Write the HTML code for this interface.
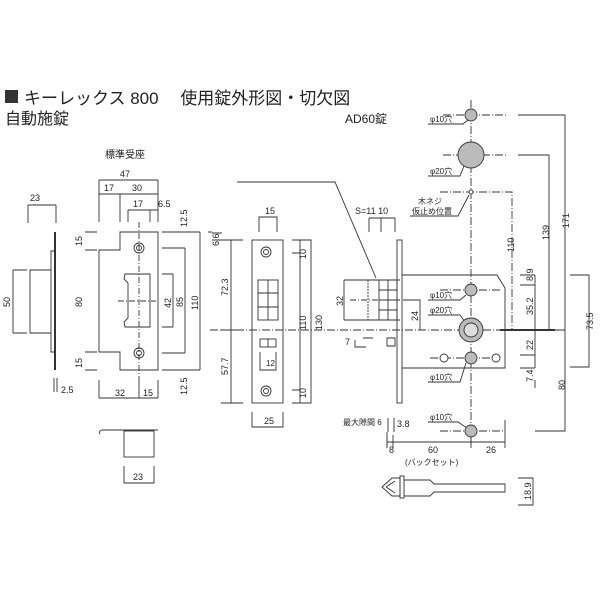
<!DOCTYPE html>
<html><head><meta charset="utf-8"><style>
html,body{margin:0;padding:0;background:#fff}
svg{display:block}
text{font-family:"Liberation Sans","Noto Sans CJK JP",sans-serif;fill:#222}
</style></head><body>
<svg width="600" height="600" viewBox="0 0 600 600" xmlns="http://www.w3.org/2000/svg">
<rect x="5" y="90" width="13" height="13" fill="#333"/>
<text x="24" y="104" font-size="17">キーレックス 800　 使用錠外形図・切欠図</text>
<text x="5" y="124" font-size="16">自動施錠</text>
<text x="345" y="123" font-size="12">AD60錠</text>
<text x="105" y="158" font-size="10">標準受座</text>

<g fill="none" stroke="#333" stroke-width="0.9">
<line x1="55" y1="232" x2="55" y2="370" stroke-width="2"/>
<path d="M55 251 H51 V352 H55"/>
<path d="M51 270 H30 V333 H51"/>
<path d="M13 270 H27 M13 333 H27 M13 270 V333"/>
<path d="M28 205 H56 M28 205 V223 M56 205 V223"/>
<path d="M54 378 V392 M57 378 V392"/>
<path d="M120 232 H158 V370 H120 V352 H99 V250 H120 Z"/>
<path d="M85 232 H97 M85 250 H97 M85 352 H97 M85 370 H97"/>
<line x1="139" y1="222" x2="139" y2="380" stroke-dasharray="6,2,1,2"/>
<circle cx="139" cy="248" r="5"/><circle cx="139" cy="248" r="2.5"/>
<circle cx="139" cy="353" r="5"/><circle cx="139" cy="353" r="2.5"/>
<path d="M125 274 H150 V327 H125 L124 322 L128 318 V283 L124 279 Z"/>
<line x1="118" y1="301" x2="156" y2="301" stroke-dasharray="6,2,1,2"/>
<path d="M162 248 H185 M162 353 H185 M162 274 H173 M162 327 H173 M173 274 V327 M185 248 V353"/>
<path d="M162 232 H200 M162 370 H200 M200 232 V370 M208 232 H212"/>
<path d="M99 180 H158 M99 180 V222 M158 180 V222 M99 194 H158 M120 194 V222 M128 210 H158 M128 210 V222 M150 210 V222"/>
<path d="M99 398 H158 M99 380 V398 M158 380 V398 M139 380 V398"/>
<path d="M102 430 H158 M102 430 q-4 1 -2 4"/>
<rect x="124" y="431" width="30" height="26"/>
<path d="M124 466 V483 H154 V466"/>
<rect x="252" y="240" width="31" height="163"/>
<circle cx="266" cy="252" r="5"/><circle cx="266" cy="252" r="2.5"/>
<circle cx="266" cy="391" r="5"/><circle cx="266" cy="391" r="2.5"/>
<rect x="258" y="280" width="20" height="40"/>
<path d="M268 280 V320 M258 293 H278 M258 307 H278"/>
<rect x="260" y="339" width="16" height="8"/><line x1="268" y1="339" x2="268" y2="347"/>
<path d="M260 352 V370 H276 V352"/>
<path d="M212 240 H243 M212 233 H222 M231 240 V403 M221 403 H243 M221 330 H243"/>
<path d="M259 232 V217 H277 V232"/>
<path d="M252 412 V427 H283 V412"/>
<path d="M292 240 H311 V403 H292 M292 253 H300 M292 390 H300 M300 240 V403"/>
<line x1="210" y1="330" x2="500" y2="330" stroke-dasharray="8,2,1,2"/>
<path d="M237 182 H335 L376 278"/>
<path d="M344 280 H400 M344 320 H400 M344 280 V320"/>
<line x1="368" y1="280" x2="368" y2="320" stroke-dasharray="2,1"/>
<rect x="379" y="280" width="18" height="40"/>
<path d="M388 280 V320 M379 290 H397 M379 300 H397 M379 310 H397"/>
<line x1="350" y1="300" x2="400" y2="300" stroke-dasharray="6,2,1,2"/>
<rect x="397" y="240" width="5" height="163"/>
<path d="M369 232 V218 M381 232 V218 M395 232 V218 M369 218 H395"/>
<path d="M355 340 V347 H366 M363 338 H373 M387 338 H395 V346 H387 Z"/>
<path d="M388 418 V432 M394 418 V432 M387 432 V448"/>
<path d="M402 275 H497 L505 288 V368 H402"/>
<line x1="471" y1="100" x2="471" y2="445" stroke-dasharray="8,2,1,2"/>
<path d="M443 115 H508 M443 155 H508 M440 192 H512 V330 M440 290 H500 M430 358 H500 M440 431 H505" stroke-dasharray="8,2,1,2"/>
<path d="M518 115 H565 V431 H535 M518 155 H549 V330 M500 330 H565" />
<line x1="500" y1="330" x2="555" y2="330" stroke-width="2"/>
<path d="M570 275 H589 V367 H570"/>
<path d="M520 275 H535 M520 285 H535 M520 355 H535 M520 368 H535 M535 275 V368 M535 380 V388"/>
<path d="M403 300 H420 V330"/>
<path d="M387 442 H505 M387 435 V448 M393 435 V448 M471 435 V448 M505 420 V448"/>
<path d="M382 487 L392 478 H400 V496 H392 Z M386 487 L395 481 M386 487 L395 493"/>
<rect x="400" y="476" width="4" height="22"/>
<path d="M404 480 H430 L434 484 H505 V492 H434 L430 496 H404"/>
<path d="M518 478 H533 V505 H518"/>
<path d="M428 124 H463 L468 120 M428 176 H460 L464 166 M410 216 H458 L469 195 M428 300 H460 L466 295 M428 315 H460 L465 322 M428 382 H460 L466 363 M428 422 H458 L467 428"/>
</g>
<g fill="#bbb" stroke="#333" stroke-width="0.9">
<circle cx="471" cy="115" r="6"/>
<circle cx="471" cy="155" r="13"/>
<circle cx="471" cy="192" r="2" fill="#fff"/>
<circle cx="471" cy="290" r="6"/>
<circle cx="471" cy="330" r="12"/>
<circle cx="471" cy="330" r="7" fill="#ddd"/>
<circle cx="471" cy="358" r="6"/>
<circle cx="444" cy="358" r="4" fill="#fff"/>
<circle cx="496" cy="358" r="4" fill="#fff"/>
<circle cx="471" cy="431" r="6"/>
</g>
<g font-size="9">
<text x="30" y="201">23</text>
<text x="120" y="177">47</text>
<text x="104" y="191">17</text>
<text x="132" y="191">30</text>
<text x="133" y="207">17</text>
<text x="158" y="207">6.5</text>
<text x="61" y="393">2.5</text>
<text x="115" y="396">32</text>
<text x="143" y="396">15</text>
<text x="133" y="480">23</text>
<text x="265" y="214">15</text>
<text x="264" y="424">25</text>
<text x="266" y="366" font-size="8">12</text>
<text x="355" y="214">S=11 10</text>
<text x="343" y="425" font-size="8">最大隙間 6</text>
<text x="397" y="427">3.8</text>
<text x="389" y="453">8</text>
<text x="428" y="453">60</text>
<text x="486" y="453">26</text>
<text x="405" y="465" font-size="8">(バックセット)</text>
<text x="345" y="345">7</text>
<text x="430" y="122" font-size="8">φ10穴</text>
<text x="430" y="174" font-size="8">φ20穴</text>
<text x="418" y="204" font-size="8">木ネジ</text>
<text x="412" y="214" font-size="8">仮止め位置</text>
<text x="430" y="298" font-size="8">φ10穴</text>
<text x="430" y="313" font-size="8">φ20穴</text>
<text x="430" y="380" font-size="8">φ10穴</text>
<text x="430" y="420" font-size="8">φ10穴</text>
</g>
<g font-size="9">
<text transform="translate(10,307) rotate(-90)">50</text>
<text transform="translate(82,246) rotate(-90)">15</text>
<text transform="translate(82,307) rotate(-90)">80</text>
<text transform="translate(82,368) rotate(-90)">15</text>
<text transform="translate(171,308) rotate(-90)">42</text>
<text transform="translate(183,307) rotate(-90)">85</text>
<text transform="translate(198,310) rotate(-90)">110</text>
<text transform="translate(187,227) rotate(-90)">12.5</text>
<text transform="translate(187,395) rotate(-90)">12.5</text>
<text transform="translate(219,246) rotate(-90)">6.6</text>
<text transform="translate(228,296) rotate(-90)">72.3</text>
<text transform="translate(228,375) rotate(-90)">57.7</text>
<text transform="translate(306,259) rotate(-90)">10</text>
<text transform="translate(306,330) rotate(-90)">110</text>
<text transform="translate(322,330) rotate(-90)">130</text>
<text transform="translate(306,398) rotate(-90)">10</text>
<text transform="translate(343,306) rotate(-90)">32</text>
<text transform="translate(418,321) rotate(-90)">24</text>
<text transform="translate(514,252) rotate(-90)">110</text>
<text transform="translate(549,240) rotate(-90)">139</text>
<text transform="translate(569,228) rotate(-90)">171</text>
<text transform="translate(533,281) rotate(-90)">8.9</text>
<text transform="translate(533,315) rotate(-90)">35.2</text>
<text transform="translate(533,350) rotate(-90)">22</text>
<text transform="translate(533,382) rotate(-90)">7.4</text>
<text transform="translate(565,390) rotate(-90)">80</text>
<text transform="translate(593,330) rotate(-90)">73.5</text>
<text transform="translate(531,500) rotate(-90)">18.9</text>
</g>
</svg>
</body></html>
